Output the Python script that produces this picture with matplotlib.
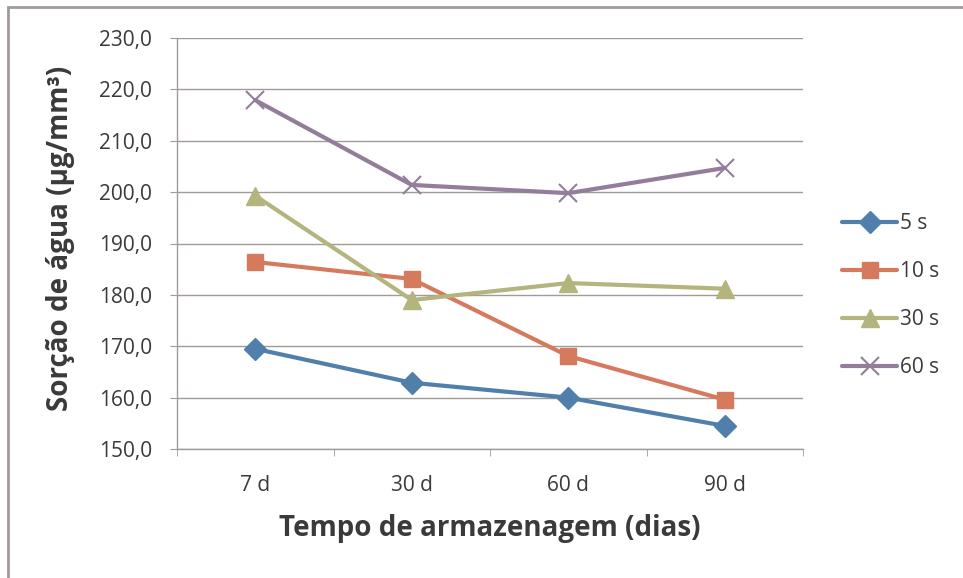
import matplotlib
matplotlib.use("Agg")
import matplotlib.pyplot as plt
from matplotlib.patches import Rectangle

categories = ["7 d", "30 d", "60 d", "90 d"]
series_names = ["5 s", "10 s", "30 s", "60 s"]
s5 = [169.5, 162.9, 160.0, 154.5]
s10 = [186.4, 183.1, 168.1, 159.6]
s30 = [199.3, 179.0, 182.3, 181.2]
s60 = [217.9, 201.4, 199.8, 204.7]
yticks = [150, 160, 170, 180, 190, 200, 210, 220, 230]

colors = ["#4F7FAA", "#D57A5C", "#B4B47E", "#937D9A"]
markers = ["D", "s", "^", "x"]
msizes = [11, 12, 13, 13]

plt.rcParams['font.family'] = ['Open Sans', 'DejaVu Sans']
txt = "#3A3A3A"
grid = "#A09A98"

fig = plt.figure(figsize=(9.63, 5.78), dpi=100)
ax = fig.add_axes([177/963, 1-449/578, (803-177)/963, (449-38)/578])

x = list(range(len(categories)))
for vals, name, c, m, ms in zip([s5, s10, s30, s60], series_names, colors, markers, msizes):
    ax.plot(x, vals, color=c, lw=3, marker=m, markersize=ms, markeredgewidth=(1.5 if m == "x" else 1),
            markeredgecolor=c, markerfacecolor=c, label=name, solid_capstyle='round')

ax.set_xlim(-0.5, len(categories)-0.5)
ax.set_ylim(150, 230)
ax.set_yticks(yticks)
ax.set_yticklabels([f"{v:.1f}".replace(".", ",") for v in yticks], fontsize=15, color=txt)
ax.set_xticks(x)
ax.set_xticklabels(categories, fontsize=15, color=txt)
ax.set_xticks([i - 0.5 for i in range(len(categories)+1)], minor=True)
ax.tick_params(axis='x', which='major', length=0, pad=19)
ax.tick_params(axis='x', which='minor', length=5, color=grid, direction='out')
ax.tick_params(axis='y', length=5, color=grid, direction='out', pad=13)
ax.grid(axis='y', color=grid, lw=1)
ax.set_axisbelow(True)
for s in ["top", "right"]:
    ax.spines[s].set_visible(False)
for s in ["left", "bottom"]:
    ax.spines[s].set_color(grid)
    ax.spines[s].set_linewidth(1)

ax.set_ylabel("Sorção de água (µg/mm³)", fontsize=20, fontweight='bold', color=txt)
ax.yaxis.set_label_coords((75-177)/626, 0.512)
ax.set_xlabel("Tempo de armazenagem (dias)", fontsize=20, fontweight='bold', color=txt)
ax.xaxis.set_label_coords(0.5, (449-514)/411)

leg = ax.legend(loc='center left', bbox_to_anchor=((842-177)/626, 0.3735), frameon=False, fontsize=15,
                handlelength=2.65, labelspacing=1.3, handletextpad=0.15, borderpad=0, borderaxespad=0,
                labelcolor=txt)

fig.patches.append(Rectangle((8/963, -0.05), 1.0, 1.05 - 7/578, transform=fig.transFigure,
                             fill=False, edgecolor=grid, lw=2))

fig.savefig("out.png", dpi=100)
